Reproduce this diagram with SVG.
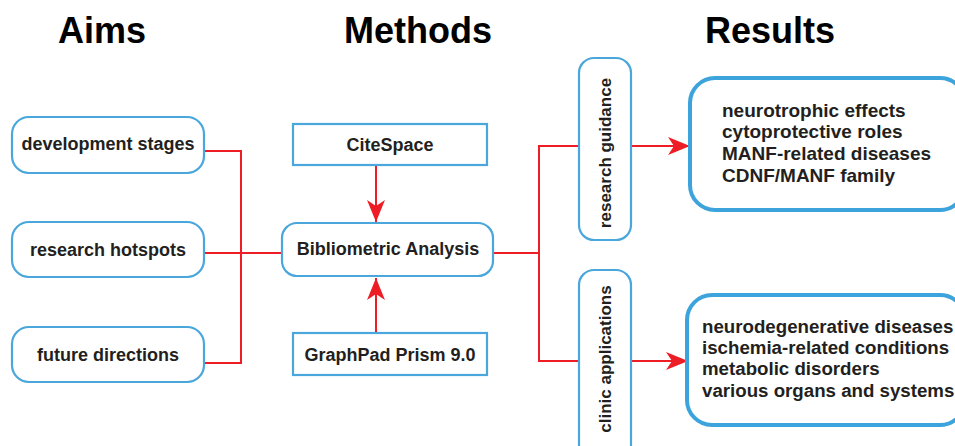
<svg xmlns="http://www.w3.org/2000/svg" width="955" height="446" viewBox="0 0 955 446">
<defs>
<style>
.t{font-family:"Liberation Sans",Arial,sans-serif;font-weight:bold;fill:#231f20}
.title{font-size:36px;fill:#000}
.lbl{font-size:18px}
.vl{font-size:17px}
.res{font-size:19px}
.res2{font-size:18.7px}
.box{fill:#fff;stroke:#4aa7dc;stroke-width:2.2}
.big{fill:#fff;stroke:#3da3dc;stroke-width:4}
.ln{fill:none;stroke:#ee1c24;stroke-width:2}
</style>
<marker id="ah" viewBox="0 0 22 18" refX="22" refY="9" markerWidth="22" markerHeight="18" markerUnits="userSpaceOnUse" orient="auto">
<path d="M0,0 L22,9 L0,18 L6,9 Z" fill="#ee1c24"/>
</marker>
</defs>
<rect width="955" height="446" fill="#fff"/>
<g id="titles">
<text class="t title" x="102" y="43" text-anchor="middle">Aims</text>
<text class="t title" x="418" y="43" text-anchor="middle">Methods</text>
<text class="t title" x="770" y="43" text-anchor="middle">Results</text>
</g>
<g id="connectors">
<polyline class="ln" points="204,151 241,151 241,363 204,363"/>
<line class="ln" x1="204" y1="253" x2="282" y2="253"/>
<line class="ln" x1="376" y1="165" x2="376" y2="222" marker-end="url(#ah)"/>
<line class="ln" x1="376" y1="333" x2="376" y2="278" marker-end="url(#ah)"/>
<polyline class="ln" points="493,253 539,253"/>
<polyline class="ln" points="579,146 539,146 539,361 579,361"/>
<line class="ln" x1="631" y1="146" x2="690" y2="146" marker-end="url(#ah)"/>
<line class="ln" x1="631" y1="361" x2="688" y2="361" marker-end="url(#ah)"/>
</g>
<g id="aim1"><rect class="box" x="12" y="117" width="192" height="56" rx="17"/><text class="t lbl" x="108" y="150" text-anchor="middle">development stages</text></g>
<g id="aim2"><rect class="box" x="12" y="222" width="192" height="55" rx="17"/><text class="t lbl" x="108" y="256" text-anchor="middle">research hotspots</text></g>
<g id="aim3"><rect class="box" x="12" y="327" width="192" height="55" rx="17"/><text class="t lbl" x="108" y="361" text-anchor="middle">future directions</text></g>
<g id="citespace"><rect class="box" x="293" y="124" width="194" height="41"/><text class="t lbl" x="390" y="151" text-anchor="middle">CiteSpace</text></g>
<g id="biblio"><rect class="box" x="282" y="223" width="211" height="53" rx="15"/><text class="t lbl" x="388" y="255" text-anchor="middle">Bibliometric Analysis</text></g>
<g id="graphpad"><rect class="box" x="293" y="333" width="194" height="42"/><text class="t lbl" x="390" y="361" text-anchor="middle">GraphPad Prism 9.0</text></g>
<g id="guidance"><rect class="box" x="579" y="58" width="52" height="182" rx="15"/><text class="t vl" transform="translate(611,153) rotate(-90)" text-anchor="middle">research guidance</text></g>
<g id="clinic"><rect class="box" x="579" y="270" width="52" height="190" rx="15"/><text class="t vl" transform="translate(611,359) rotate(-90)" text-anchor="middle">clinic applications</text></g>
<g id="result1"><rect class="big" x="690" y="78" width="275" height="132" rx="25"/>
<text class="t res" x="722" y="117">neurotrophic effects</text>
<text class="t res" x="722" y="138">cytoprotective roles</text>
<text class="t res" x="722" y="160">MANF-related diseases</text>
<text class="t res" x="722" y="182">CDNF/MANF family</text></g>
<g id="result2"><rect class="big" x="687" y="295" width="278" height="130" rx="25"/>
<text class="t res2" x="702" y="333">neurodegenerative diseases</text>
<text class="t res2" x="702" y="354">ischemia-related conditions</text>
<text class="t res2" x="702" y="375">metabolic disorders</text>
<text class="t res2" x="702" y="397">various organs and systems</text></g>
</svg>
